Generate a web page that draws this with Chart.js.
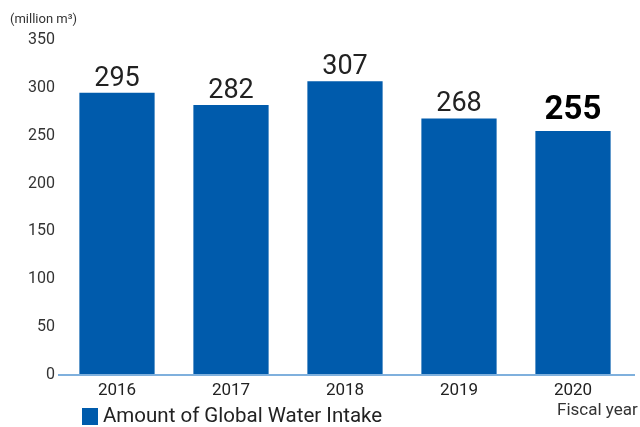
<!DOCTYPE html>
<html>
<head>
<meta charset="utf-8">
<script src="https://cdn.jsdelivr.net/npm/chart.js@4"></script>
<style>
  html, body { margin: 0; padding: 0; background: #fff; }
  #wrap { width: 640px; height: 427px; position: relative; }
</style>
</head>
<body>
<div id="wrap"><canvas id="chart"></canvas></div>
<script>
const years = ['2016', '2017', '2018', '2019', '2020'];
const waterIntake = [295, 282, 307, 268, 255];
const yTicks = [0, 50, 100, 150, 200, 250, 300, 350];
const seriesLabel = 'Amount of Global Water Intake';
const unitLabel = '(million m\u00b3)';
const xAxisLabel = 'Fiscal year';

const barColor = '#005bac';
const axisColor = '#7fb0dd';
const font = 'Roboto, "Noto Sans", sans-serif';

// value labels, baseline, unit text and legend
const extras = {
    id: 'extras',
    afterDatasetsDraw(chart) {
        const ctx = chart.ctx;
        const meta = chart.getDatasetMeta(0);
        const area = chart.chartArea;
        const y0 = chart.scales.y.getPixelForValue(0);

        ctx.save();
        // baseline
        ctx.strokeStyle = axisColor;
        ctx.lineWidth = 2;
        ctx.beginPath();
        ctx.moveTo(area.left - 2, y0);
        ctx.lineTo(area.right + 5, y0);
        ctx.stroke();

        // bar values
        ctx.textAlign = 'center';
        ctx.textBaseline = 'alphabetic';
        meta.data.forEach((bar, i) => {
            const last = i === meta.data.length - 1;
            ctx.fillStyle = last ? '#000' : '#222';
            ctx.font = (last ? 'bold 33px ' : '27px ') + font;
            ctx.fillText(String(waterIntake[i]), bar.x, bar.y - (last ? 12 : 7));
        });

        // unit
        ctx.textAlign = 'left';
        ctx.textBaseline = 'middle';
        ctx.fillStyle = '#333';
        ctx.font = '13px ' + font;
        ctx.fillText(unitLabel, 10, 20);

        // fiscal year
        ctx.font = '17px ' + font;
        ctx.fillText(xAxisLabel, 557, 411);

        // legend
        ctx.fillStyle = barColor;
        ctx.fillRect(82, 408, 16, 17);
        ctx.fillStyle = '#222';
        ctx.font = '20.5px ' + font;
        ctx.fillText(seriesLabel, 103, 417);
        ctx.restore();
    }
};

new Chart(document.getElementById('chart'), {
    type: 'bar',
    data: {
        labels: years,
        datasets: [{
            label: seriesLabel,
            data: waterIntake,
            backgroundColor: barColor,
            barPercentage: 0.66,
            categoryPercentage: 1
        }]
    },
    options: {
        responsive: true,
        maintainAspectRatio: false,
        animation: false,
        layout: { padding: { top: 40, right: 10, bottom: 24, left: 0 } },
        plugins: {
            legend: { display: false },
            tooltip: { enabled: false }
        },
        scales: {
            x: {
                grid: { display: false, drawTicks: false },
                border: { display: false },
                ticks: { color: '#222', font: { family: font, size: 17 }, padding: 6 },
                afterFit(scale) { scale.height = 28; }
            },
            y: {
                min: 0,
                max: 350,
                afterBuildTicks(scale) { scale.ticks = yTicks.map(v => ({ value: v })); },
                grid: { display: false, drawTicks: false },
                border: { display: false },
                ticks: { color: '#333', font: { family: font, size: 16 }, padding: 5 },
                afterFit(scale) { scale.width = 60; }
            }
        }
    },
    plugins: [extras]
});
</script>
</body>
</html>
